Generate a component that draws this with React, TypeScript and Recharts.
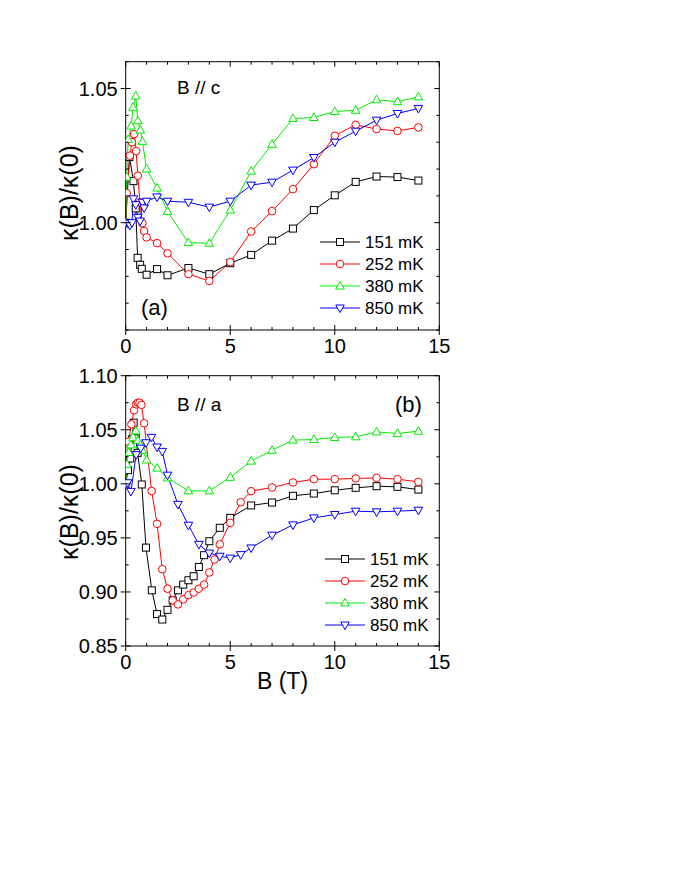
import { Legend, Line, LineChart, XAxis, YAxis } from 'recharts';

// panel (a): B // c
const B_A_151 = [0, 0.18, 0.37, 0.48, 0.57, 0.69, 0.77, 1, 1.5, 2, 3, 4, 5, 6, 7, 8, 9, 10, 11, 12, 13, 14];
const K_A_151 = [1.0, 1.0245, 1.0155, 1.0053, 0.9869, 0.9843, 0.9828, 0.9806, 0.9827, 0.9804, 0.9831, 0.9808, 0.9849, 0.988, 0.9933, 0.9978, 1.0047, 1.0102, 1.0152, 1.0172, 1.017, 1.0157];
const B_A_252 = [0, 0.05, 0.2, 0.3, 0.4, 0.5, 0.58, 0.68, 0.8, 0.88, 1, 1.5, 2, 3, 4, 5, 6, 7, 8, 9, 10, 11, 12, 13, 14];
const K_A_252 = [1.0, 1.011, 1.025, 1.03, 1.033, 1.0267, 1.0175, 1.0076, 0.9998, 0.9969, 0.9945, 0.9924, 0.9886, 0.9808, 0.9783, 0.9853, 0.9967, 1.0043, 1.0125, 1.0218, 1.0324, 1.0365, 1.0349, 1.0342, 1.0355];
const B_A_380 = [0, 0.05, 0.12, 0.26, 0.35, 0.48, 0.58, 0.7, 0.8, 1, 1.5, 2, 3, 4, 5, 6, 7, 8, 9, 10, 11, 12, 13, 14];
const K_A_380 = [1.0, 1.017, 1.031, 1.036, 1.043, 1.0472, 1.038, 1.0345, 1.0303, 1.02, 1.0129, 1.0042, 0.9926, 0.9923, 1.0047, 1.0192, 1.0292, 1.0388, 1.0392, 1.0414, 1.0419, 1.0458, 1.0451, 1.0469];
const B_A_850 = [0, 0.1, 0.2, 0.3, 0.37, 0.48, 0.58, 0.69, 0.8, 0.88, 1, 1.5, 2, 3, 4, 5, 6, 7, 8, 9, 10, 11, 12, 13, 14];
const K_A_850 = [1.0, 0.9998, 0.999, 1.0, 1.0089, 1.0067, 1.002, 1.0006, 1.0076, 1.0055, 1.008, 1.0096, 1.008, 1.0076, 1.0058, 1.008, 1.014, 1.0151, 1.0196, 1.0243, 1.03, 1.0341, 1.0382, 1.0407, 1.0426];

// panel (b): B // a
const B_B_151 = [0, 0.11, 0.22, 0.3, 0.38, 0.48, 0.57, 0.77, 0.97, 1.25, 1.5, 1.75, 2, 2.25, 2.5, 2.75, 3, 3.25, 3.5, 3.75, 4, 4.5, 5, 6, 7, 8, 9, 10, 11, 12, 13, 14];
const K_B_151 = [1.0, 1.0126, 1.0234, 1.041, 1.0565, 1.042, 1.0286, 0.9994, 0.941, 0.9015, 0.8795, 0.8745, 0.8835, 0.8922, 0.9015, 0.9068, 0.9108, 0.9145, 0.9231, 0.934, 0.9469, 0.9593, 0.9685, 0.98, 0.9827, 0.9889, 0.991, 0.994, 0.9963, 0.9978, 0.9972, 0.9947];
const B_B_252 = [0, 0.13, 0.27, 0.4, 0.5, 0.58, 0.66, 0.75, 0.88, 1.24, 1.5, 1.75, 2, 2.25, 2.5, 2.75, 3, 3.25, 3.5, 3.75, 4, 4.25, 4.5, 5, 5.5, 6, 7, 8, 9, 10, 11, 12, 13, 14];
const K_B_252 = [1.0, 1.039, 1.055, 1.068, 1.0735, 1.075, 1.075, 1.073, 1.056, 0.9933, 0.963, 0.921, 0.903, 0.8922, 0.8885, 0.8932, 0.897, 0.8994, 0.903, 0.9068, 0.918, 0.93, 0.944, 0.9639, 0.983, 0.9932, 0.9966, 1.0012, 1.0043, 1.0043, 1.005, 1.0055, 1.0043, 1.0018];
const B_B_380 = [0, 0.06, 0.15, 0.25, 0.35, 0.48, 0.58, 0.7, 0.8, 1, 1.5, 2, 3, 4, 5, 6, 7, 8, 9, 10, 11, 12, 13, 14];
const K_B_380 = [1.0, 1.018, 1.029, 1.036, 1.043, 1.049, 1.04, 1.036, 1.031, 1.022, 1.0145, 1.0055, 0.9935, 0.9935, 1.006, 1.021, 1.031, 1.0404, 1.041, 1.0429, 1.0435, 1.048, 1.0466, 1.0487];
const B_B_850 = [0, 0.1, 0.25, 0.5, 0.72, 0.97, 1.23, 1.5, 1.75, 2, 2.5, 3, 3.5, 4, 4.5, 5, 5.5, 6, 7, 8, 9, 10, 11, 12, 13, 14];
const K_B_850 = [1.0, 1.001, 0.993, 1.027, 1.033, 1.038, 1.043, 1.034, 1.03, 1.008, 0.981, 0.9617, 0.944, 0.936, 0.933, 0.9313, 0.9345, 0.9407, 0.9525, 0.962, 0.9685, 0.9716, 0.9747, 0.9741, 0.9747, 0.9756];

const SERIES_NAMES = ['151 mK', '252 mK', '380 mK', '850 mK'];
const COLORS = ['#000000', '#ff0000', '#00ee00', '#0000ff'];
const SHAPES = ['square', 'circle', 'up', 'down'];

const B_TICKS = [0, 1, 2, 3, 4, 5, 6, 7, 8, 9, 10, 11, 12, 13, 14, 15];
const K_TICKS_A = [0.96, 0.97, 0.98, 0.99, 1.0, 1.01, 1.02, 1.03, 1.04, 1.05, 1.06];
const K_TICKS_B = [0.85, 0.875, 0.9, 0.925, 0.95, 0.975, 1.0, 1.025, 1.05, 1.075, 1.1];

const zip = (bs: number[], ks: number[]) => bs.map((b, i) => ({ B: b, k: ks[i] }));

const PANEL_A = [zip(B_A_151, K_A_151), zip(B_A_252, K_A_252), zip(B_A_380, K_A_380), zip(B_A_850, K_A_850)];
const PANEL_B = [zip(B_B_151, K_B_151), zip(B_B_252, K_B_252), zip(B_B_380, K_B_380), zip(B_B_850, K_B_850)];

const FONT = '"Liberation Sans", Arial, sans-serif';
const W = 673;
const H = 365;

const Marker = ({ shape, cx, cy, color }: { shape: string; cx?: number; cy?: number; color: string }) => {
  if (cx == null || cy == null) return null;
  const common = { fill: '#fff', stroke: color, strokeWidth: 1 };
  if (shape === 'square') return <rect x={cx - 3.5} y={cy - 3.5} width={7} height={7} {...common} />;
  if (shape === 'circle') return <circle cx={cx} cy={cy} r={3.8} {...common} />;
  if (shape === 'up')
    return <polygon points={`${cx},${cy - 4.6} ${cx + 4.3},${cy + 3} ${cx - 4.3},${cy + 3}`} {...common} />;
  return <polygon points={`${cx},${cy + 4.6} ${cx + 4.3},${cy - 3} ${cx - 4.3},${cy - 3}`} {...common} />;
};

type Side = 'left' | 'right' | 'top' | 'bottom';

const makeTick = (side: Side, isMajor: (v: number) => boolean, fmt?: (v: number) => string) => (props: any) => {
  const { x, y, payload } = props;
  const v = payload.value as number;
  const major = isMajor(v);
  const inLen = major ? 5 : 3;
  const outLen = major && (side === 'left' || side === 'bottom') ? 5 : 0;
  let line;
  if (side === 'left') line = <line x1={x - outLen} x2={x + inLen} y1={y} y2={y} />;
  else if (side === 'right') line = <line x1={x - inLen} x2={x} y1={y} y2={y} />;
  else if (side === 'top') line = <line x1={x} x2={x} y1={y} y2={y + inLen} />;
  else line = <line x1={x} x2={x} y1={y + outLen} y2={y - inLen} />;
  return (
    <g stroke="#000" strokeWidth={1}>
      {line}
      {major && fmt && side === 'left' && (
        <text x={x - 8} y={y} dy="0.35em" textAnchor="end" stroke="none" fill="#000" fontSize={20} fontFamily={FONT}>
          {fmt(v)}
        </text>
      )}
      {major && fmt && side === 'bottom' && (
        <text x={x} y={y + 23} textAnchor="middle" stroke="none" fill="#000" fontSize={20} fontFamily={FONT}>
          {fmt(v)}
        </text>
      )}
    </g>
  );
};

const bMajor = (v: number) => Math.round(v) % 5 === 0;
const kMajor = (v: number) => Math.round(v * 1000) % 50 === 0;

const LegendBox = () => (
  <svg width={120} height={90} style={{ display: 'block' }}>
    {SERIES_NAMES.map((name, i) => (
      <g key={name}>
        <line x1={2} x2={42} y1={11 + i * 22} y2={11 + i * 22} stroke={COLORS[i]} strokeWidth={1} />
        <Marker shape={SHAPES[i]} cx={22} cy={11 + i * 22} color={COLORS[i]} />
        <text x={47} y={11 + i * 22} dy="0.35em" fontSize={17} fontFamily={FONT} fill="#000">
          {name}
        </text>
      </g>
    ))}
  </svg>
);

const Panel = ({
  series,
  kDomain,
  kTicks,
  margin,
  legendPos,
}: {
  series: { B: number; k: number }[][];
  kDomain: [number, number];
  kTicks: number[];
  margin: { top: number; right: number; bottom: number; left: number };
  legendPos: { left: number; top: number };
}) => (
  <LineChart width={W} height={H} margin={margin}>
    <XAxis
      dataKey="B"
      type="number"
      domain={[0, 15]}
      ticks={B_TICKS}
      interval={0}
      allowDataOverflow
      height={35}
      tickSize={0}
      tickMargin={0}
      tickLine={false}
      axisLine={{ stroke: '#000' }}
      tick={makeTick('bottom', bMajor, (v) => String(v))}
    />
    <XAxis
      xAxisId="top"
      orientation="top"
      dataKey="B"
      type="number"
      domain={[0, 15]}
      ticks={B_TICKS}
      interval={0}
      allowDataOverflow
      height={5}
      tickSize={0}
      tickMargin={0}
      tickLine={false}
      axisLine={{ stroke: '#000' }}
      tick={makeTick('top', bMajor)}
    />
    <YAxis
      type="number"
      domain={kDomain}
      ticks={kTicks}
      interval={0}
      allowDataOverflow
      width={60}
      tickSize={0}
      tickMargin={0}
      tickLine={false}
      axisLine={{ stroke: '#000' }}
      tick={makeTick('left', kMajor, (v) => v.toFixed(2))}
    />
    <YAxis
      yAxisId="right"
      orientation="right"
      type="number"
      domain={kDomain}
      ticks={kTicks}
      interval={0}
      allowDataOverflow
      width={5}
      tickSize={0}
      tickMargin={0}
      tickLine={false}
      axisLine={{ stroke: '#000' }}
      tick={makeTick('right', kMajor)}
    />
    {series.map((data, i) => (
      <Line
        key={SERIES_NAMES[i]}
        name={SERIES_NAMES[i]}
        data={data}
        dataKey="k"
        type="linear"
        stroke={COLORS[i]}
        strokeWidth={1}
        isAnimationActive={false}
        dot={(p: any) => <Marker key={`${i}-${p.index}`} shape={SHAPES[i]} cx={p.cx} cy={p.cy} color={COLORS[i]} />}
        activeDot={false}
      />
    ))}
    <Legend
      layout="vertical"
      align="center"
      verticalAlign="middle"
      wrapperStyle={{ left: legendPos.left, top: legendPos.top, width: 120 }}
      content={() => <LegendBox />}
    />
  </LineChart>
);

const textStyle = { position: 'absolute' as const, fontFamily: FONT, color: '#000', whiteSpace: 'nowrap' as const, lineHeight: 1 };

const YTitle = ({ cx, cy }: { cx: number; cy: number }) => (
  <div
    style={{
      ...textStyle,
      left: cx,
      top: cy,
      fontSize: 25,
      transform: 'translate(-50%, -50%) rotate(-90deg)',
    }}
  >
    κ(B)/κ(0)
  </div>
);

export default function App() {
  return (
    <div style={{ position: 'absolute', left: 0, top: 0, width: 673, height: 871, background: '#fff' }}>
      <div style={{ position: 'absolute', left: 0, top: 0 }}>
        <Panel
          series={PANEL_A}
          kDomain={[0.96, 1.06]}
          kTicks={K_TICKS_A}
          margin={{ top: 56.7, right: 228.7, bottom: 0, left: 65.7 }}
          legendPos={{ left: 318, top: 231 }}
        />
      </div>
      <div style={{ position: 'absolute', left: 0, top: 360 }}>
        <Panel
          series={PANEL_B}
          kDomain={[0.85, 1.1]}
          kTicks={K_TICKS_B}
          margin={{ top: 10.7, right: 228.7, bottom: 44, left: 65.7 }}
          legendPos={{ left: 323, top: 188 }}
        />
      </div>
      <YTitle cx={69} cy={193} />
      <YTitle cx={69} cy={512} />
      <div style={{ ...textStyle, left: 177, top: 78, fontSize: 19 }}>B // c</div>
      <div style={{ ...textStyle, left: 141, top: 297, fontSize: 22 }}>(a)</div>
      <div style={{ ...textStyle, left: 177, top: 395, fontSize: 19 }}>B // a</div>
      <div style={{ ...textStyle, left: 395, top: 394, fontSize: 22 }}>(b)</div>
      <div style={{ ...textStyle, left: 282.5, top: 670, fontSize: 23, transform: 'translateX(-50%)' }}>B (T)</div>
    </div>
  );
}
